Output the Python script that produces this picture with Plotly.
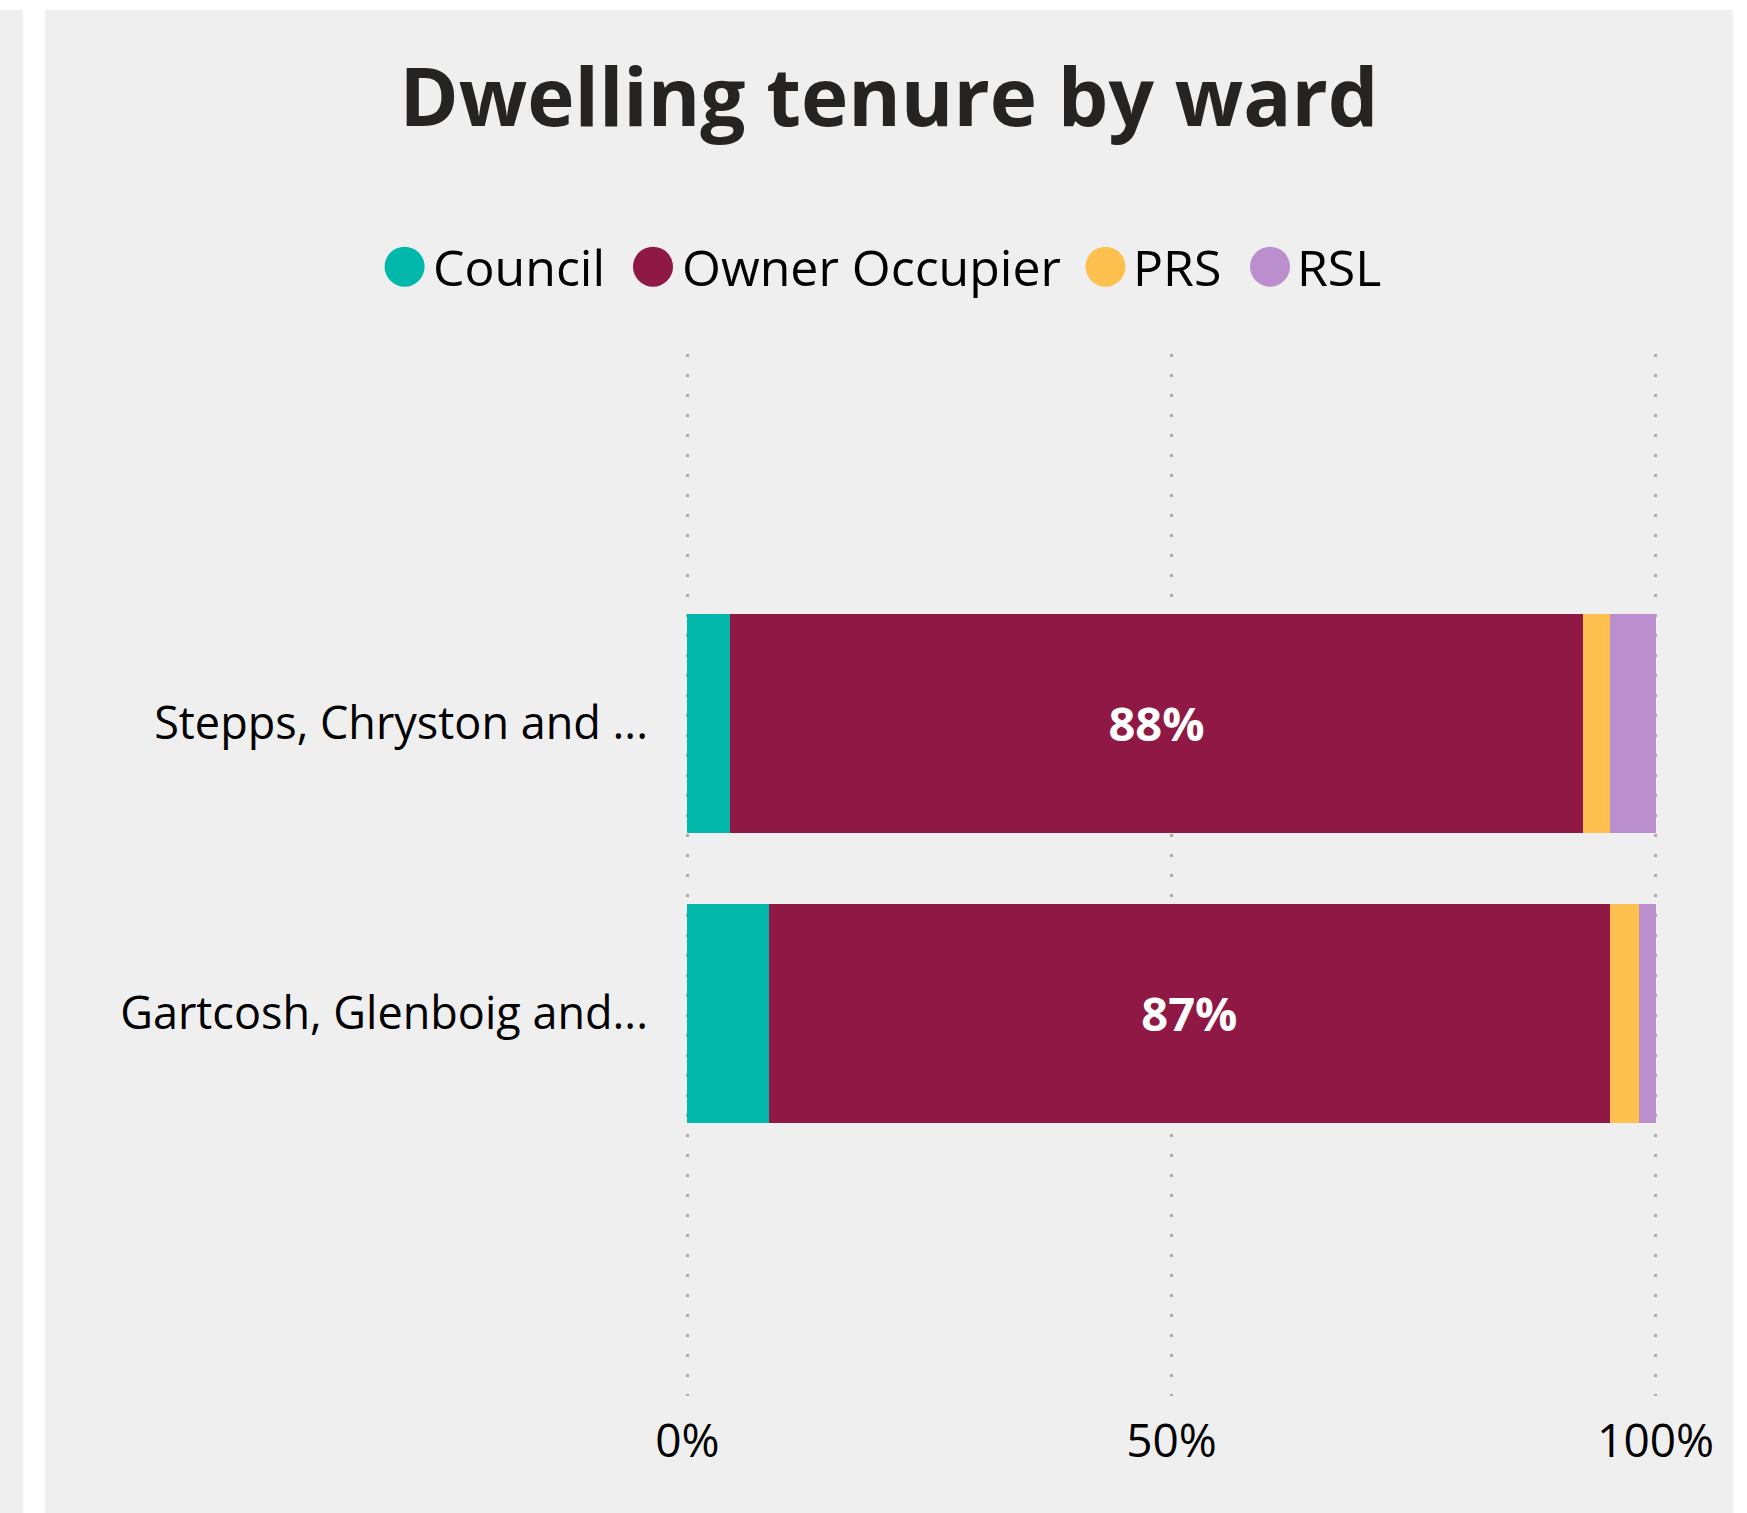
import plotly.graph_objects as go

# ---------------- data ----------------
WARDS = ["Stepps, Chryston and ...", "Gartcosh, Glenboig and..."]
TENURES = ["Council", "Owner Occupier", "PRS", "RSL"]
COUNCIL = [4.4, 8.4]
OWNER_OCCUPIER = [88.1, 86.9]
PRS = [2.8, 3.0]
RSL = [4.7, 1.7]
X_TICKS = [0, 50, 100]
X_TICK_LABELS = ["0%", "50%", "100%"]
TITLE = "Dwelling tenure by ward"

SERIES = [COUNCIL, OWNER_OCCUPIER, PRS, RSL]
COLORS = ["#01B8AA", "#8F1844", "#FEC04E", "#BB8FCE"]
LABELLED = [False, True, False, False]

# ---------------- layout geometry (pixels) ----------------
W, H = 1747, 1513
L, R, T, B = 685, 1658, 354, 1396  # plot area
PW, PH = R - L, B - T

def px(x):
    return (x - L) / PW

def py(y):
    return (B - y) / PH

FONT = "Open Sans, Segoe UI, sans-serif"

fig = go.Figure()
for name, vals, col, lab in zip(TENURES, SERIES, COLORS, LABELLED):
    fig.add_trace(go.Bar(
        y=WARDS, x=vals, name=name, orientation="h",
        marker=dict(color=col, line=dict(width=0)),
        width=0.755,
        texttemplate="%{x:.0f}%" if lab else None,
        textposition="inside" if lab else "none",
        insidetextanchor="middle",
        textfont=dict(family=FONT, size=47, color="white", weight="bold"),
        showlegend=False,
        hoverinfo="x+y+name",
    ))

shapes = [
    # left neighbouring panel strip
    dict(type="rect", xref="paper", yref="paper", x0=px(-5), x1=px(23), y0=py(1600), y1=py(10),
         fillcolor="#EFEFEF", line=dict(width=0), layer="below"),
    # main panel
    dict(type="rect", xref="paper", yref="paper", x0=px(45), x1=px(1733), y0=py(1600), y1=py(10),
         fillcolor="#EFEFEF", line=dict(width=0), layer="below"),
]

# manual legend (big round symbols)
LEG_CIRCLE_X = [404.6, 653, 1105.5, 1270]
LEG_TEXT_X = [432, 681, 1132, 1296]
LEG_Y = 266.7
annotations = []
for name, col, cx, tx in zip(TENURES, COLORS, LEG_CIRCLE_X, LEG_TEXT_X):
    shapes.append(dict(type="circle", xref="paper", yref="paper",
                       xsizemode="pixel", ysizemode="pixel",
                       xanchor=px(cx), yanchor=py(LEG_Y),
                       x0=-20, x1=20, y0=-20, y1=20,
                       fillcolor=col, line=dict(width=0)))
    annotations.append(dict(text=name, xref="paper", yref="paper",
                            x=px(tx), y=py(LEG_Y), xanchor="left", yanchor="middle",
                            showarrow=False, borderpad=0,
                            font=dict(family=FONT, size=50, color="#000000")))

fig.update_layout(
    width=W, height=H,
    margin=dict(l=L, r=W - R, t=T, b=H - B, pad=0, autoexpand=False),
    paper_bgcolor="#FFFFFF",
    plot_bgcolor="rgba(0,0,0,0)",
    barmode="stack",
    showlegend=False,
    title=dict(text="<b>" + TITLE + "</b>", x=px(889), xref="paper", xanchor="center",
               y=1 - 98 / H, yref="container", yanchor="middle",
               font=dict(family=FONT, size=80, color="#252423")),
    shapes=shapes,
    annotations=annotations,
    xaxis=dict(range=[-0.25, 100.25], tickvals=X_TICKS, ticktext=X_TICK_LABELS,
               showgrid=True, gridcolor="#ABABAB", gridwidth=2.5, griddash="3px,17px",
               zeroline=False, showline=False, ticks="", ticklabelstandoff=14,
               tickfont=dict(family=FONT, size=46, color="#000000"), fixedrange=True),
    yaxis=dict(categoryorder="array", categoryarray=WARDS[::-1],
               range=[-1.319, 2.274], showgrid=False, zeroline=False, showline=False,
               ticks="", ticklabelstandoff=36,
               tickfont=dict(family=FONT, size=45, color="#000000"), fixedrange=True),
    uniformtext=dict(mode="show", minsize=8),
)

fig.write_html("out.html", config={"displayModeBar": False},
               post_script="document.body.style.margin='0';document.body.style.overflow='hidden';")
